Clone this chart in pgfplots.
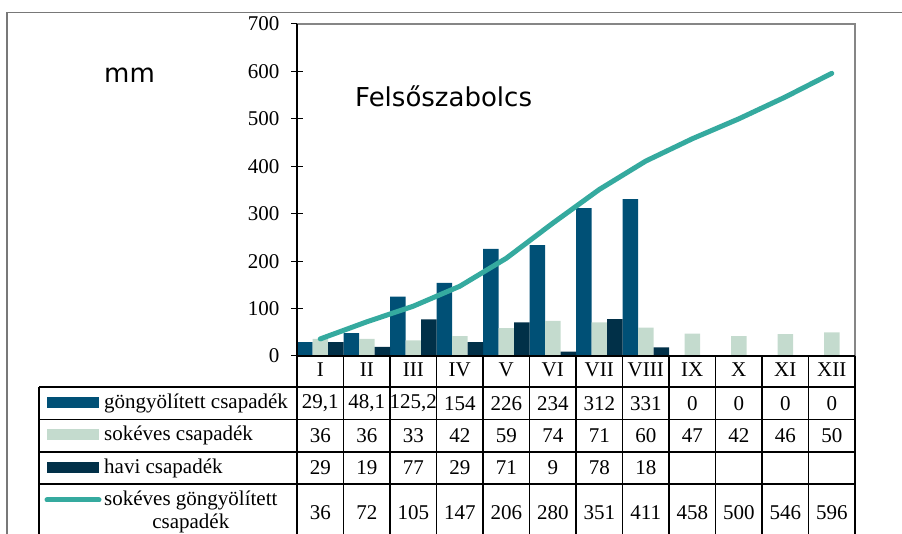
\documentclass[border=0pt]{standalone}
\usepackage{fontspec}
\setmainfont{Liberation Serif}
\newfontfamily\dejavu{DejaVu Sans}
\usepackage{pgfplots}
\usepackage{pgfplotstable}
\pgfplotsset{compat=1.18}

\definecolor{gong}{RGB}{0,80,118}
\definecolor{sok}{RGB}{196,219,206}
\definecolor{havi}{RGB}{1,48,72}
\definecolor{sokg}{RGB}{53,170,159}
\definecolor{framegray}{RGB}{120,120,120}
\definecolor{plotgray}{RGB}{134,134,134}

% columns: month index, göngyölített, sokéves, havi, sokéves göngyölített
\pgfplotstableread{
x  gong  sok havi sokg
0  29.1  36  29   36
1  48.1  36  19   72
2  125.2 33  77   105
3  154   42  29   147
4  226   59  71   206
5  234   74  9    280
6  312   71  78   351
7  331   60  18   411
8  0     47  nan  458
9  0     42  nan  500
10 0     46  nan  546
11 0     50  nan  596
}\data

\newcommand\tbl{\fontsize{21}{23}\selectfont}

\begin{document}
\begin{tikzpicture}
\useasboundingbox (0pt,0pt) rectangle (902pt,534pt);
\begin{scope}[x=1pt,y=1pt]
% outer chart frame
\draw[framegray, line width=1.2pt] (7,0) -- (7,521.5) -- (902,521.5);
\end{scope}

\begin{axis}[
  at={(297pt,178pt)}, anchor=south west,
  scale only axis, width=558pt, height=332pt,
  xmin=-0.5, xmax=11.5, ymin=0, ymax=700,
  clip=false,
  axis line style={draw=none},
  /pgf/number format/assume math mode=true,
  /pgf/number format/use comma,
  ytick={0,100,...,700},
  ytick pos=left,
  tick align=center,
  major tick length=12pt,
  ytick style={black, line width=1pt},
  yticklabel style={font=\tbl, anchor=east},
  yticklabel shift=8pt,
  xtick={0,...,11},
  xticklabels={I,II,III,IV,V,VI,VII,VIII,IX,X,XI,XII},
  xtick style={draw=none},
  xtick pos=bottom,
  xticklabel style={font=\tbl, anchor=north},
  xticklabel shift=-3pt,
]
\addplot[ybar, bar width=0.3333, bar shift=-0.3333, fill=gong, draw=none] table[x=x, y=gong] {\data};
\addplot[ybar, bar width=0.3333, bar shift=0, fill=sok, draw=none] table[x=x, y=sok] {\data};
\addplot[ybar, bar width=0.3333, bar shift=0.3333, fill=havi, draw=none] table[x=x, y=havi] {\data};
\addplot[sokg, line width=5pt, line cap=round, line join=round] table[x=x, y=sokg] {\data};

% data table rows
\addplot[draw=none, nodes near coords, point meta=explicit,
  every node near coord/.style={font=\tbl, anchor=center, yshift=-47.5pt}]
  table[x=x, y expr=0, meta=gong] {\data};
\addplot[draw=none, nodes near coords, point meta=explicit,
  every node near coord/.style={font=\tbl, anchor=center, yshift=-79.5pt}]
  table[x=x, y expr=0, meta=sok] {\data};
\addplot[draw=none, nodes near coords, point meta=explicit, restrict x to domain=0:7,
  every node near coord/.style={font=\tbl, anchor=center, yshift=-112pt}]
  table[x=x, y expr=0, meta=havi] {\data};
\addplot[draw=none, nodes near coords, point meta=explicit,
  every node near coord/.style={font=\tbl, anchor=center, yshift=-157pt}]
  table[x=x, y expr=0, meta=sokg] {\data};
\end{axis}

\begin{scope}[x=1pt,y=1pt]
% plot area border and axes
\draw[plotgray, line width=2pt] (297,510) -- (855,510) -- (855,178);
\draw[black, line width=2pt] (297,178) -- (855,178);
\draw[black, line width=1.3pt] (297,510) -- (297,0);
% table grid
\foreach \k in {1,...,11} \draw[black, line width=1.1pt] (297+46.5*\k,178) -- (297+46.5*\k,0);
\draw[black, line width=1.1pt] (855,178) -- (855,0);
\draw[black, line width=1.1pt] (39,147) -- (39,0);
\foreach \yy in {147,114.5,82,50} \draw[black, line width=1.1pt] (39,\yy) -- (855,\yy);

% legend keys
\fill[gong] (46.7,126) rectangle (99,136.5);
\fill[sok] (46.7,94) rectangle (99,104.5);
\fill[havi] (46.7,61) rectangle (99,71.5);
\draw[sokg, line width=5pt, line cap=round] (47,34) -- (99,34);
\node[font=\tbl, anchor=west, inner sep=0pt] at (104,130.5) {göngyölített csapadék};
\node[font=\tbl, anchor=west, inner sep=0pt] at (104,98.5) {sokéves csapadék};
\node[font=\tbl, anchor=west, inner sep=0pt] at (104,66) {havi csapadék};
\node[font=\tbl, anchor=west, inner sep=0pt, align=center] at (104,22) {sokéves göngyölített\\csapadék};

% titles
\node[font={\dejavu\fontsize{26}{28}\selectfont}, anchor=base west, inner sep=0pt] at (104,451) {mm};
\node[font={\dejavu\fontsize{26}{28}\selectfont}, anchor=base west, inner sep=0pt] at (355,427) {Felsőszabolcs};
\end{scope}
\end{tikzpicture}
\end{document}
